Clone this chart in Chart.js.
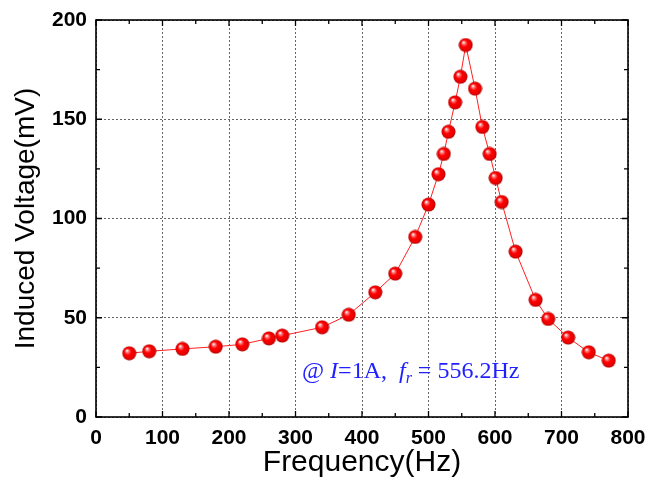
<!DOCTYPE html>
<html>
<head>
<meta charset="utf-8">
<script src="https://cdn.jsdelivr.net/npm/chart.js@4/dist/chart.umd.min.js"></script>
<style>
  body { margin: 0; background: #fff; }
  #wrap { width: 647px; height: 485px; }
</style>
</head>
<body>
<div id="wrap"><canvas id="chart" width="647" height="485"></canvas></div>
<script>
// frequency (Hz) and induced voltage (mV)
const freq = [50, 80, 130, 180, 220, 260, 280, 340, 380, 420, 450, 480, 500, 515, 523, 530, 540, 548, 556,
  570, 581, 592, 601, 610, 631, 661, 680, 710, 741, 771];
const voltage = [32.1, 33.1, 34.3, 35.4, 36.6, 39.6, 41, 45.2, 51.5, 62.8, 72.2, 90.7, 107, 122.3, 132.5, 143.7, 158.5, 171.4, 187.4,
  165.4, 146.1, 132.5, 120.4, 108.3, 83.3, 59, 49.4, 40, 32.6, 28.4];

const xTicks = [0, 100, 200, 300, 400, 500, 600, 700, 800];
const xMinor = [50, 150, 250, 350, 450, 550, 650, 750];
const yTicks = [0, 50, 100, 150, 200];
const yMinor = [25, 75, 125, 175];

const xTitle = "Frequency(Hz)";
const yTitle = "Induced Voltage(mV)";

// shaded red ball used as the marker
function sphere(r) {
  const c = document.createElement("canvas");
  const s = r * 2 + 1;
  c.width = s;
  c.height = s;
  const g = c.getContext("2d");
  const cx = s / 2, cy = s / 2;
  const grad = g.createRadialGradient(cx - r * 0.35, cy - r * 0.4, r * 0.05, cx, cy, r);
  grad.addColorStop(0, "#ffffff");
  grad.addColorStop(0.18, "#ff8080");
  grad.addColorStop(0.45, "#ff0000");
  grad.addColorStop(0.85, "#e60000");
  grad.addColorStop(1, "#a00000");
  g.fillStyle = grad;
  g.beginPath();
  g.arc(cx, cy, r, 0, Math.PI * 2);
  g.fill();
  return c;
}

// box round the plot with inward ticks on every side, plus the note
const framePlugin = {
  id: "frame",
  beforeDatasetsDraw(chart) {
    const { ctx, chartArea: a, scales } = chart;
    const x = scales.x, y = scales.y;
    ctx.save();
    ctx.strokeStyle = "#000";
    ctx.lineWidth = 1.6;
    ctx.strokeRect(a.left, a.top, a.right - a.left, a.bottom - a.top);
    ctx.lineWidth = 1.3;
    ctx.beginPath();
    const xt = (v, len) => {
      const px = x.getPixelForValue(v);
      ctx.moveTo(px, a.bottom); ctx.lineTo(px, a.bottom - len);
      ctx.moveTo(px, a.top); ctx.lineTo(px, a.top + len);
    };
    const yt = (v, len) => {
      const py = y.getPixelForValue(v);
      ctx.moveTo(a.left, py); ctx.lineTo(a.left + len, py);
      ctx.moveTo(a.right, py); ctx.lineTo(a.right - len, py);
    };
    xTicks.forEach((v) => xt(v, 6));
    xMinor.forEach((v) => xt(v, 4));
    yTicks.forEach((v) => yt(v, 6));
    yMinor.forEach((v) => yt(v, 4));
    ctx.stroke();
    ctx.restore();
  },
  afterDraw(chart) {
    const ctx = chart.ctx;
    const parts = [
      ["@ ", "normal", 24, 0],
      ["I", "italic", 24, 0],
      ["=1A,  ", "normal", 24, 0],
      ["f", "italic", 24, 0],
      ["r", "italic", 16, 5],
      [" = 556.2Hz", "normal", 24, 0],
    ];
    let px = 302;
    const base = 378;
    ctx.save();
    ctx.fillStyle = "#1f1fff";
    ctx.textBaseline = "alphabetic";
    parts.forEach(([t, style, size, dy]) => {
      ctx.font = `${style} ${size}px "Liberation Serif", serif`;
      ctx.fillText(t, px, base + dy);
      px += ctx.measureText(t).width;
    });
    ctx.restore();
  },
};

new Chart(document.getElementById("chart"), {
  type: "scatter",
  data: {
    datasets: [{
      data: freq.map((f, i) => ({ x: f, y: voltage[i] })),
      showLine: true,
      borderColor: "#ff2020",
      borderWidth: 1,
      pointStyle: sphere(7),
      pointRadius: 7,
      pointHoverRadius: 7,
    }],
  },
  options: {
    responsive: false,
    animation: false,
    layout: { padding: { top: 20, right: 19, left: 0, bottom: 0 } },
    plugins: { legend: { display: false }, tooltip: { enabled: false } },
    scales: {
      x: {
        type: "linear",
        min: 0,
        max: 800,
        afterBuildTicks: (s) => { s.ticks = xTicks.map((v) => ({ value: v })); },
        afterFit: (s) => {
          s.height = 68;
          s.paddingLeft = 0;
          s.paddingRight = 0;
        },
        grid: { color: "#666", lineWidth: 1, drawTicks: false },
        border: { display: false, dash: [2, 2] },
        ticks: {
          color: "#000",
          padding: 9,
          maxRotation: 0,
          font: { family: "'Liberation Sans', Arial, sans-serif", size: 21, weight: "bold" },
        },
        title: {
          display: true,
          text: xTitle,
          color: "#000",
          padding: { top: 0, bottom: 4 },
          font: { family: "'Liberation Sans', Arial, sans-serif", size: 30 },
        },
      },
      y: {
        min: 0,
        max: 200,
        afterBuildTicks: (s) => { s.ticks = yTicks.map((v) => ({ value: v })); },
        afterFit: (s) => {
          s.width = 96;
          s.paddingTop = 0;
          s.paddingBottom = 0;
        },
        grid: { color: "#666", lineWidth: 1, drawTicks: false },
        border: { display: false, dash: [2, 2] },
        ticks: {
          color: "#000",
          padding: 9,
          font: { family: "'Liberation Sans', Arial, sans-serif", size: 21, weight: "bold" },
        },
        title: {
          display: true,
          text: yTitle,
          color: "#000",
          padding: { top: 9, bottom: 0 },
          font: { family: "'Liberation Sans', Arial, sans-serif", size: 28 },
        },
      },
    },
  },
  plugins: [framePlugin],
});
</script>
</body>
</html>
